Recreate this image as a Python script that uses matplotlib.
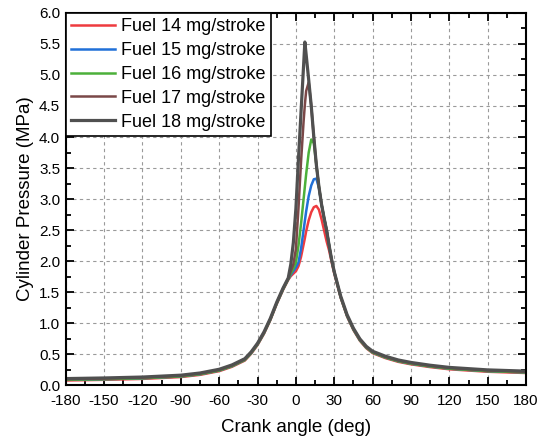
import numpy as np
import matplotlib
matplotlib.use("Agg")
import matplotlib.pyplot as plt
from matplotlib.ticker import MultipleLocator

plt.rcParams['font.family'] = ['Liberation Sans', 'DejaVu Sans']
plt.rcParams['axes.unicode_minus'] = False

# crank angle (deg), shared by all series
angle = [-180, -150, -120, -90, -75, -60, -50, -40, -35, -30, -25, -20, -15, -10, -6,
         -4, -2, 0, 2, 4, 6, 7, 8, 10, 12, 14, 16, 18, 20, 22, 24, 26, 28, 30,
         35, 40, 45, 50, 55, 60, 70, 80, 90, 105, 120, 150, 180]

# compression part, before combustion (same for all, slightly offset)
base = [0.10, 0.11, 0.125, 0.155, 0.19, 0.25, 0.32, 0.42, 0.53, 0.67, 0.85, 1.07, 1.33, 1.56, 1.72]
# expansion tail after 30 deg
tail = [1.43, 1.13, 0.91, 0.74, 0.62, 0.54, 0.46, 0.40, 0.36, 0.315, 0.28, 0.24, 0.22]

p14 = [v - 0.02 for v in base] + [1.76, 1.80, 1.84, 1.92, 2.07, 2.27, 2.37, 2.48, 2.66, 2.79, 2.87, 2.89,
                                  2.83, 2.68, 2.50, 2.32, 2.17, 1.98, 1.80] + [v - 0.02 for v in tail]
p15 = [v - 0.01 for v in base] + [1.78, 1.84, 1.90, 1.98, 2.20, 2.50, 2.65, 2.80, 3.05, 3.22, 3.32, 3.33,
                                  3.18, 2.92, 2.70, 2.50, 2.25, 2.01, 1.82] + [v - 0.01 for v in tail]
p16 = [v - 0.01 for v in base] + [1.80, 1.88, 1.98, 2.25, 2.60, 3.00, 3.20, 3.40, 3.75, 3.96, 3.90, 3.55,
                                  3.20, 2.92, 2.70, 2.50, 2.25, 2.01, 1.82] + [v - 0.01 for v in tail]
p17 = list(base) + [1.84, 1.95, 2.20, 2.85, 3.60, 4.25, 4.52, 4.74, 4.88, 4.50, 4.00, 3.55,
                    3.20, 2.92, 2.70, 2.50, 2.25, 2.02, 1.83] + list(tail)
p18 = [v + 0.01 for v in base] + [1.95, 2.30, 2.85, 3.65, 4.40, 5.15, 5.53, 5.33, 4.92, 4.50, 4.00, 3.55,
                                  3.20, 2.92, 2.70, 2.50, 2.25, 2.02, 1.83] + [v + 0.01 for v in tail]

labels = ['Fuel 14 mg/stroke', 'Fuel 15 mg/stroke', 'Fuel 16 mg/stroke',
          'Fuel 17 mg/stroke', 'Fuel 18 mg/stroke']
colors = ['#ee3b3f', '#2070d8', '#4cb03a', '#7a4848', '#505050']
widths = [1.8, 1.8, 1.8, 1.8, 2.3]

fig = plt.figure(figsize=(5.39, 4.42), dpi=100)
ax = fig.add_axes([0.122, 0.128, 0.854, 0.843])

for y, lab, c, w in zip([p14, p15, p16, p17, p18], labels, colors, widths):
    ax.plot(angle, y, color=c, lw=w, label=lab, solid_joinstyle='round')

ax.set_xlim(-180, 180)
ax.set_ylim(0, 6)
ax.xaxis.set_major_locator(MultipleLocator(30))
ax.xaxis.set_minor_locator(MultipleLocator(15))
ax.yaxis.set_major_locator(MultipleLocator(0.5))
ax.yaxis.set_minor_locator(MultipleLocator(0.25))
ax.yaxis.set_major_formatter(plt.FormatStrFormatter('%.1f'))

ax.grid(True, which='major', color='#9a9a9a', ls=(0, (3, 3)), lw=0.8)
ax.tick_params(which='both', direction='in', top=True, right=True, labelsize=11, width=1.3)
ax.tick_params(which='major', length=6)
ax.tick_params(which='minor', length=3.5)
ax.tick_params(axis='x', which='major', pad=6)
ax.tick_params(axis='y', which='major', pad=4)
for s in ax.spines.values():
    s.set_linewidth(1.5)

ax.set_xlabel('Crank angle (deg)', fontsize=13.5, labelpad=8)
ax.set_ylabel('Cylinder Pressure (MPa)', fontsize=13.5)

leg = ax.legend(loc='upper left', fontsize=13, frameon=True, fancybox=False,
                edgecolor='black', framealpha=1, handlelength=2.4, borderaxespad=0,
                borderpad=0.3, labelspacing=0.38, handletextpad=0.35)
leg.get_frame().set_linewidth(1.2)

fig.savefig('out.png', dpi=100)
